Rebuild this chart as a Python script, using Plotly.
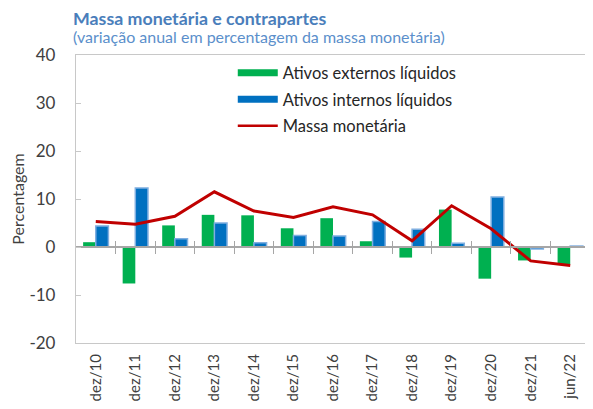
import plotly.graph_objects as go

categories = ["dez/10", "dez/11", "dez/12", "dez/13", "dez/14", "dez/15", "dez/16",
              "dez/17", "dez/18", "dez/19", "dez/20", "dez/21", "jun/22"]
ativos_externos = [1.0, -7.6, 4.5, 6.7, 6.6, 3.9, 6.0, 1.2, -2.2, 7.8, -6.6, -2.8, -3.6]
ativos_internos = [4.4, 12.3, 1.7, 5.0, 0.9, 2.4, 2.3, 5.3, 3.7, 0.8, 10.4, -0.4, 0.2]
massa_monetaria = [5.3, 4.75, 6.4, 11.5, 7.5, 6.15, 8.4, 6.7, 1.3, 8.6, 3.8, -2.9, -3.85]
y_ticks = [-20, -10, 0, 10, 20, 30, 40]

FONT = "Lato"
GRAY = "#A6A6A6"
TXT = "#404040"
GREEN = "#00B050"
BLUE = "#0070C0"
RED = "#C00000"

fig = go.Figure()
fig.add_trace(go.Bar(x=categories, y=ativos_externos, name="Ativos externos líquidos",
                     marker=dict(color=GREEN, line=dict(width=0)), showlegend=False))
fig.add_trace(go.Bar(x=categories, y=ativos_internos, name="Ativos internos líquidos",
                     marker=dict(color=BLUE, line=dict(color="#7FAEE0", width=1.5)),
                     showlegend=False))
fig.add_trace(go.Scatter(x=categories, y=massa_monetaria, name="Massa monetária",
                         mode="lines", line=dict(color=RED, width=3), showlegend=False))

# legend entries (wide swatches like the reference)
fig.add_trace(go.Scatter(x=[None], y=[None], mode="lines", name="Ativos externos líquidos",
                         line=dict(color=GREEN, width=7), legendgroup="a"))
fig.add_trace(go.Scatter(x=[None], y=[None], mode="lines", name="Ativos internos líquidos",
                         line=dict(color=BLUE, width=7), legendgroup="b"))
fig.add_trace(go.Scatter(x=[None], y=[None], mode="lines", name="Massa monetária",
                         line=dict(color=RED, width=2.5), legendgroup="c"))

n = len(categories)
boundaries = [i + 0.5 for i in range(n - 1)]
zero_pos = (0 - y_ticks[0]) / (y_ticks[-1] - y_ticks[0])

fig.update_layout(
    width=585, height=401,
    margin=dict(l=67.5, r=2.5, t=47, b=66),
    paper_bgcolor="white", plot_bgcolor="white",
    font=dict(family=FONT, color=TXT, size=15),
    barmode="group", bargap=0.36, bargroupgap=0.0,
    showlegend=True,
    legend=dict(x=0.305, y=0.998, xanchor="left", yanchor="top",
                font=dict(size=16.5, color="#262626"), bgcolor="rgba(0,0,0,0)",
                tracegroupgap=2, itemwidth=40),
    xaxis=dict(type="category", categoryorder="array", categoryarray=categories,
               range=[-0.5, n - 0.5],
               showline=True, linecolor="#C8C8C8", linewidth=1.3, mirror=True,
               ticks="", tickangle=-90, tickfont=dict(size=15, color=TXT),
               ticklabelstandoff=4, showgrid=False),
    xaxis2=dict(overlaying="x", anchor="free", position=zero_pos, side="bottom",
                range=[-0.5, n - 0.5], tickmode="array", tickvals=boundaries,
                showticklabels=False, ticks="outside", ticklen=6, tickcolor=GRAY,
                tickwidth=1.3, showline=True, linecolor=GRAY, linewidth=1.5,
                showgrid=False, zeroline=False),
    xaxis3=dict(overlaying="x", anchor="free", position=zero_pos, side="top",
                range=[-0.5, n - 0.5], tickmode="array", tickvals=boundaries,
                showticklabels=False, ticks="outside", ticklen=6, tickcolor=GRAY,
                tickwidth=1.3, showline=False, showgrid=False, zeroline=False),
    yaxis=dict(range=[y_ticks[0], y_ticks[-1]], tickmode="array", tickvals=y_ticks,
               ticktext=[str(v) for v in y_ticks],
               showline=True, linecolor="#C8C8C8", linewidth=1.3,
               ticks="inside", ticklen=5, tickcolor="#C8C8C8",
               showgrid=False, zeroline=False,
               tickfont=dict(size=17, color=TXT), ticklabelstandoff=16,
               title=dict(text="Percentagem", font=dict(size=16, color=TXT), standoff=6)),
)

# invisible helper traces so overlay axes render
fig.add_trace(go.Scatter(x=[0], y=[0], xaxis="x2", mode="markers",
                         marker=dict(opacity=0), showlegend=False, hoverinfo="skip"))
fig.add_trace(go.Scatter(x=[0], y=[0], xaxis="x3", mode="markers",
                         marker=dict(opacity=0), showlegend=False, hoverinfo="skip"))

fig.add_annotation(text="<b>Massa monetária e contrapartes</b>", xref="paper", yref="paper",
                   x=-0.007, y=1.127, xanchor="left", yanchor="middle", showarrow=False,
                   borderpad=0, font=dict(size=17.8, color="#4A7EBB", family=FONT))
fig.add_annotation(text="(variação anual em percentagem da massa monetária)", xref="paper",
                   yref="paper", x=-0.007, y=1.064, xanchor="left", yanchor="middle",
                   showarrow=False, borderpad=0,
                   font=dict(size=16, color="#5B8FCB", family=FONT))

fig.write_html("out.html")
